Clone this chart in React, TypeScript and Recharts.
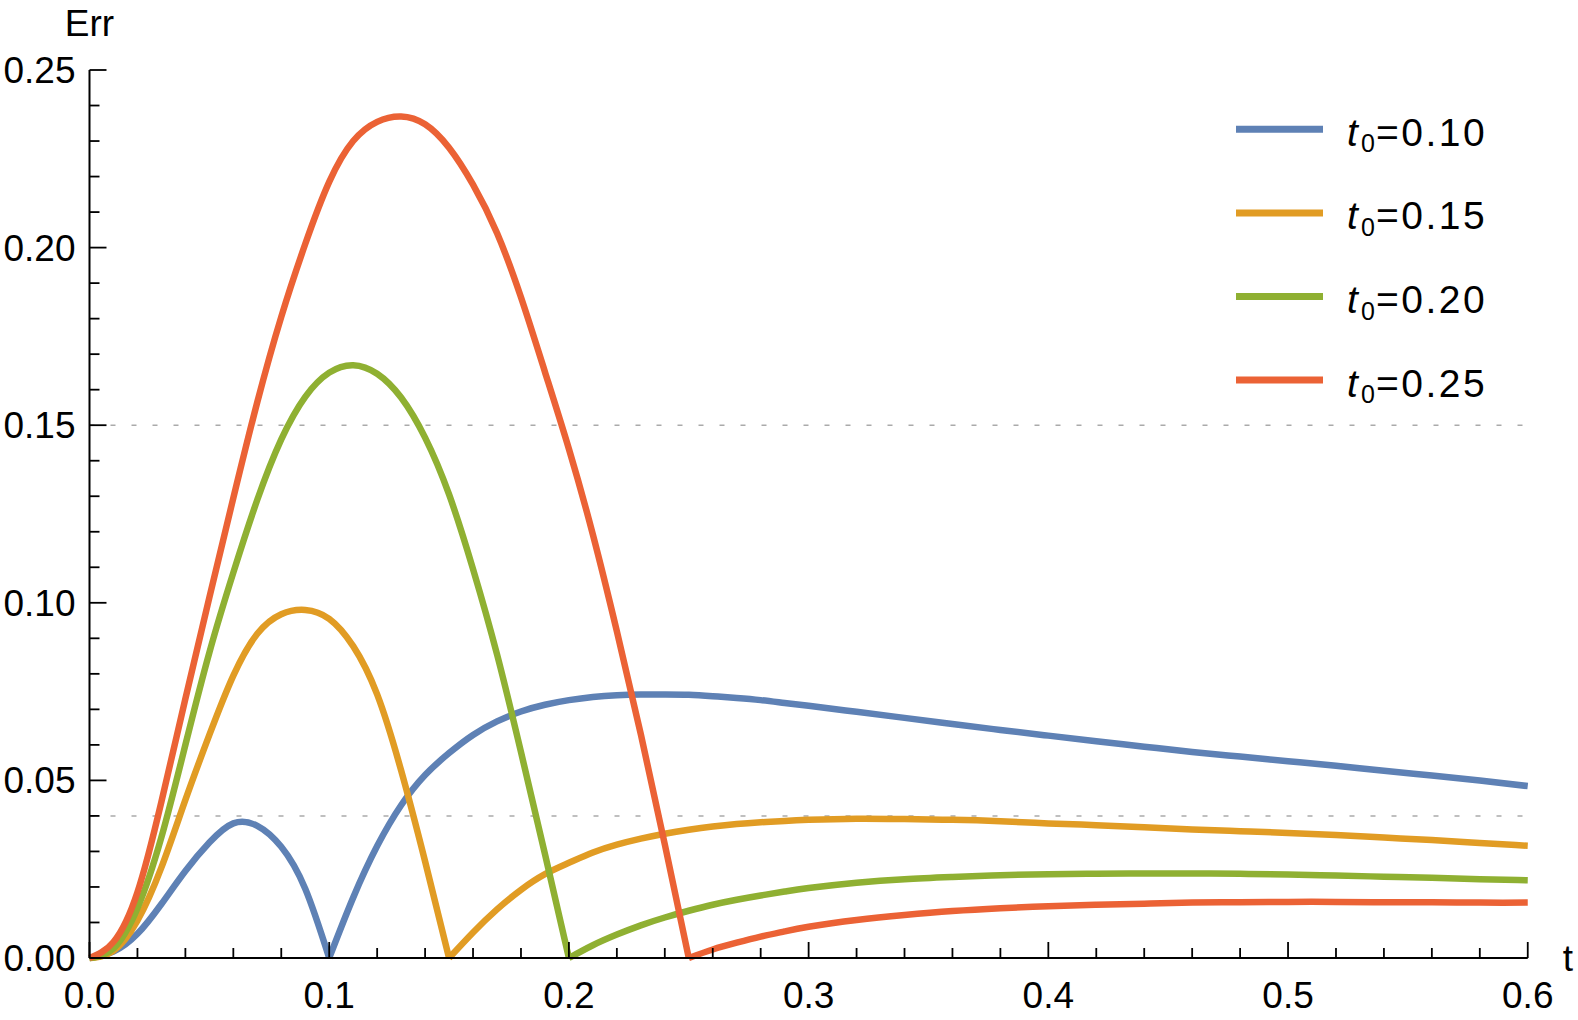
import React from 'react';
import { LineChart, Line, XAxis, YAxis, ReferenceLine, Legend } from 'recharts';

// ---------- data ----------
const tValues = [
  0, 0.01, 0.02, 0.03, 0.04, 0.05, 0.06, 0.07, 0.08, 0.09, 0.1,
  0.11, 0.12, 0.13, 0.14, 0.15, 0.16, 0.17, 0.18, 0.19, 0.2,
  0.21, 0.22, 0.23, 0.24, 0.25, 0.26, 0.27, 0.28, 0.29, 0.3,
  0.32, 0.34, 0.36, 0.38, 0.4, 0.42, 0.44, 0.46, 0.48, 0.5,
  0.52, 0.54, 0.56, 0.58, 0.6,
];

const err010 = [
  0, 0.0018, 0.0068, 0.0152, 0.0245, 0.0325, 0.0379, 0.0372, 0.0313, 0.0195, 0,
  0.017, 0.0315, 0.043, 0.0515, 0.0577, 0.0628, 0.0666, 0.0694, 0.0713, 0.0726,
  0.0735, 0.074, 0.0742, 0.0742, 0.0741, 0.0737, 0.0732, 0.0726, 0.0718, 0.071,
  0.0693, 0.0676, 0.0659, 0.0642, 0.0626, 0.061, 0.0595, 0.058, 0.0567, 0.0554,
  0.0541, 0.0527, 0.0514, 0.05, 0.0484,
];

const err015 = [
  0, 0.002, 0.0105, 0.0255, 0.0445, 0.0628, 0.0795, 0.0913, 0.0968, 0.098, 0.0955,
  0.0878, 0.0742, 0.0528, 0.0272, 0, 0.0072, 0.0137, 0.0192, 0.0236, 0.0268,
  0.0297, 0.0319, 0.0336, 0.035, 0.0361, 0.037, 0.0377, 0.0382, 0.0386, 0.0389,
  0.0392, 0.0391, 0.0389, 0.0385, 0.0379, 0.0374, 0.0368, 0.0362, 0.0357, 0.0352,
  0.0346, 0.0339, 0.0332, 0.0324, 0.0316,
];

const err020 = [
  0, 0.0027, 0.014, 0.034, 0.06, 0.086, 0.1085, 0.129, 0.146, 0.158, 0.1648,
  0.1669, 0.1645, 0.1578, 0.1465, 0.1305, 0.1095, 0.0855, 0.058, 0.0293, 0,
  0.0036, 0.0066, 0.0092, 0.0114, 0.0133, 0.015, 0.0164, 0.0176, 0.0187, 0.0197,
  0.0212, 0.0222, 0.0228, 0.0233, 0.0236, 0.0237, 0.0238, 0.0238, 0.0237, 0.0235,
  0.0232, 0.0229, 0.0226, 0.0222, 0.0219,
];

const err025 = [
  0, 0.0045, 0.0185, 0.044, 0.073, 0.1015, 0.1295, 0.1565, 0.1805, 0.201, 0.2185,
  0.23, 0.2354, 0.2369, 0.2347, 0.2281, 0.2177, 0.2041, 0.186, 0.165, 0.1433,
  0.1192, 0.092, 0.063, 0.032, 0, 0.0024, 0.0043, 0.006, 0.0075, 0.0088,
  0.0107, 0.0121, 0.0132, 0.014, 0.0146, 0.015, 0.0153, 0.0156, 0.0157, 0.0158,
  0.0158, 0.0157, 0.0157, 0.0156, 0.0156,
];

const t0Values = [0.1, 0.15, 0.2, 0.25];
const t0Labels = ['0.10', '0.15', '0.20', '0.25'];

const xTicks = [
  0, 0.02, 0.04, 0.06, 0.08, 0.1, 0.12, 0.14, 0.16, 0.18, 0.2, 0.22, 0.24, 0.26, 0.28, 0.3,
  0.32, 0.34, 0.36, 0.38, 0.4, 0.42, 0.44, 0.46, 0.48, 0.5, 0.52, 0.54, 0.56, 0.58, 0.6,
];
const yTicks = [
  0, 0.01, 0.02, 0.03, 0.04, 0.05, 0.06, 0.07, 0.08, 0.09, 0.1, 0.11, 0.12,
  0.13, 0.14, 0.15, 0.16, 0.17, 0.18, 0.19, 0.2, 0.21, 0.22, 0.23, 0.24, 0.25,
];
const gridValues = [0.04, 0.15];

// ---------- styles ----------
const COLORS = ['#5E81B5', '#E19C24', '#8FB032', '#EB6235'];
const FONT = '"Liberation Sans", Arial, Helvetica, sans-serif';
const W = 1578;
const H = 1020;
const PLOT_LEFT = 89.5;
const PLOT_RIGHT = 1527.75;
const PLOT_TOP = 70;
const PLOT_BOTTOM = 958;
const LINE_W = 6.5;

const seriesValues = [err010, err015, err020, err025];
const series = t0Values.map((t0, k) => ({
  key: 's' + k,
  t0,
  label: t0Labels[k],
  values: seriesValues[k],
  color: COLORS[k],
}));

const rows = tValues.map((t, i) => {
  const row: Record<string, number | null> = { t };
  series.forEach((s) => {
    row[s.key + 'a'] = t <= s.t0 + 1e-9 ? s.values[i] : null;
    row[s.key + 'b'] = t >= s.t0 - 1e-9 ? s.values[i] : null;
  });
  return row;
});

const isMultiple = (v: number, step: number) =>
  Math.abs(v / step - Math.round(v / step)) < 1e-6;

const XTick = (props: any) => {
  const { x, y, payload } = props;
  const v = payload.value as number;
  const major = isMultiple(v, 0.1);
  return (
    <g>
      <line x1={x} x2={x} y1={y} y2={y - (major ? 16 : 10)} stroke="#000" strokeWidth={1.8} />
      {major && (
        <text x={x} y={y + 50} textAnchor="middle" fontSize={37} fontFamily={FONT} fill="#000">
          {v.toFixed(1)}
        </text>
      )}
    </g>
  );
};

const YTick = (props: any) => {
  const { x, y, payload } = props;
  const v = payload.value as number;
  const major = isMultiple(v, 0.05);
  return (
    <g>
      <line x1={x} x2={x + (major ? 17 : 10)} y1={y} y2={y} stroke="#000" strokeWidth={1.8} />
      {major && (
        <text x={x - 14} y={y + 13} textAnchor="end" fontSize={37} fontFamily={FONT} fill="#000">
          {v.toFixed(2)}
        </text>
      )}
    </g>
  );
};

const ErrLabel = (props: any) => {
  const vb = props.viewBox || {};
  const x = (vb.x ?? 0) + (vb.width ?? PLOT_LEFT);
  return (
    <text x={x} y={36} textAnchor="middle" fontSize={37} fontFamily={FONT} fill="#000">
      Err
    </text>
  );
};

const TLabel = (props: any) => {
  const vb = props.viewBox || {};
  const x = (vb.x ?? PLOT_LEFT) + (vb.width ?? PLOT_RIGHT - PLOT_LEFT) + 35;
  const y = (vb.y ?? PLOT_BOTTOM) + 13;
  return (
    <text x={x} y={y} textAnchor="start" fontSize={37} fontFamily={FONT} fill="#000">
      t
    </text>
  );
};

const LEG_X1 = 1236;
const LEG_X2 = 1323;
const LEG_Y0 = 129.3;
const LEG_DY = 83.6;

const LegendContent = () => (
  <svg
    width={W}
    height={H}
    style={{ position: 'absolute', left: 0, top: 0, overflow: 'visible', pointerEvents: 'none' }}
  >
    {series.map((s, k) => {
      const y = LEG_Y0 + k * LEG_DY;
      return (
        <g key={s.key}>
          <line x1={LEG_X1} x2={LEG_X2} y1={y} y2={y} stroke={s.color} strokeWidth={LINE_W + 0.5} />
          <text x={1347} y={y + 16.4} fontSize={39} fontFamily={FONT} fill="#000" fontStyle="italic">
            t
          </text>
          <text x={1361} y={y + 23} fontSize={25} fontFamily={FONT} fill="#000">
            0
          </text>
          <text x={1376} y={y + 16.4} fontSize={39} fontFamily={FONT} fill="#000" letterSpacing={2.5}>
            {'=' + s.label}
          </text>
        </g>
      );
    })}
  </svg>
);

export default function App() {
  return (
    <div style={{ position: 'absolute', left: 0, top: 0, width: W, height: H, background: '#fff' }}>
      <LineChart
        width={W}
        height={H}
        data={rows}
        margin={{ top: PLOT_TOP, right: W - PLOT_RIGHT, bottom: 0, left: 0 }}
      >
        <XAxis
          dataKey="t"
          type="number"
          domain={[0, 0.6]}
          ticks={xTicks}
          interval={0}
          height={H - PLOT_BOTTOM}
          tickSize={0}
          tickMargin={0}
          tickLine={false}
          axisLine={{ stroke: '#000', strokeWidth: 2 }}
          tick={<XTick />}
          label={<TLabel />}
          allowDecimals
        />
        <YAxis
          type="number"
          domain={[0, 0.25]}
          ticks={yTicks}
          interval={0}
          width={PLOT_LEFT}
          tickSize={0}
          tickMargin={0}
          tickLine={false}
          axisLine={{ stroke: '#000', strokeWidth: 2 }}
          tick={<YTick />}
          label={<ErrLabel />}
        />
        {gridValues.map((g) => (
          <ReferenceLine key={g} y={g} stroke="#aaaaaa" strokeWidth={1.5} strokeDasharray="5 16" />
        ))}
        <Legend
          layout="vertical"
          align="center"
          verticalAlign="middle"
          wrapperStyle={{ position: 'absolute', left: 0, top: 0, width: 0, height: 0 }}
          content={<LegendContent />}
        />
        {series.flatMap((s) => [
          <Line
            key={s.key + 'a'}
            dataKey={s.key + 'a'}
            name={'t0=' + s.label}
            type="natural"
            stroke={s.color}
            strokeWidth={LINE_W}
            dot={false}
            activeDot={false}
            isAnimationActive={false}
            connectNulls={false}
          />,
          <Line
            key={s.key + 'b'}
            dataKey={s.key + 'b'}
            legendType="none"
            type="natural"
            stroke={s.color}
            strokeWidth={LINE_W}
            dot={false}
            activeDot={false}
            isAnimationActive={false}
            connectNulls={false}
          />,
        ])}
      </LineChart>
    </div>
  );
}
